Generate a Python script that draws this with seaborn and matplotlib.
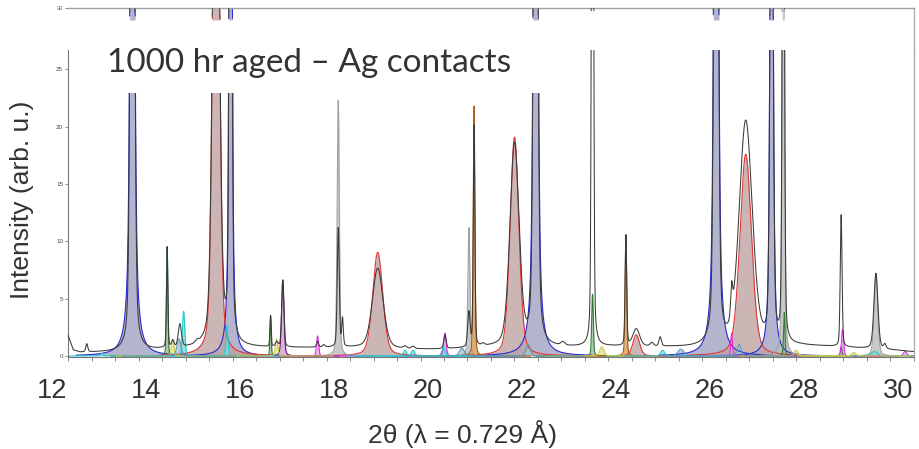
import numpy as np
import pandas as pd
import matplotlib
matplotlib.use("Agg")
import matplotlib.pyplot as plt
from matplotlib.ticker import MultipleLocator, FixedLocator, NullLocator
from matplotlib.patches import Rectangle
import seaborn as sns

# ---------------- data ----------------
x_tick_values = [12, 14, 16, 18, 20, 22, 24, 26, 28, 30]
y_tick_values = [0, 5, 10, 15, 20, 25]
top_tick_values = [30]

# fitted phase contributions: position (2theta), height, FWHM
blue_pos = [13.71, 15.80, 22.29, 26.13, 27.31]
blue_height = [90, 100, 90, 95, 60]
blue_fwhm = [0.085, 0.055, 0.085, 0.085, 0.07]

red_pos = [15.49, 18.93, 21.84, 24.43, 26.76]
red_height = [60, 9.05, 19.1, 1.85, 17.6]
red_fwhm = [0.15, 0.25, 0.22, 0.17, 0.29]

gray_pos = [18.09, 20.87, 27.56, 29.53]
gray_height = [22.3, 11.2, 60, 7.1]
gray_fwhm = [0.055, 0.05, 0.05, 0.09]

green_pos = [14.45, 16.65, 23.50, 27.58, 28.79]
green_height = [9.5, 3.5, 5.4, 3.8, 0.8]
green_fwhm = [0.035, 0.03, 0.04, 0.035, 0.04]

orange_pos = [20.98, 24.21]
orange_height = [21.8, 10.6]
orange_fwhm = [0.04, 0.04]

purple_pos = [16.91]
purple_height = [6.65]
purple_fwhm = [0.06]

magenta_pos = [17.65, 20.36, 26.46, 28.82, 30.15]
magenta_height = [1.75, 2.0, 2.0, 2.3, 0.4]
magenta_fwhm = [0.05, 0.06, 0.04, 0.05, 0.08]

cyan_pos = [13.06, 14.80, 15.72, 19.51, 19.68, 20.33, 24.99, 29.50]
cyan_height = [0.25, 3.9, 2.6, 0.5, 0.5, 0.8, 0.5, 0.4]
cyan_fwhm = [0.06, 0.06, 0.05, 0.08, 0.08, 0.08, 0.1, 0.15]

yellow_pos = [14.57, 16.78, 23.70, 27.83, 29.06]
yellow_height = [1.4, 1.5, 0.8, 0.5, 0.3]
yellow_fwhm = [0.06, 0.06, 0.1, 0.1, 0.1]

steel_pos = [14.70, 20.72, 22.13, 25.38, 26.62]
steel_height = [1.5, 0.7, 1.0, 0.6, 1.0]
steel_fwhm = [0.1, 0.12, 0.1, 0.15, 0.1]

# observed pattern: peaks above background
obs_pos = [12.74, 13.71, 14.45, 14.57, 14.72, 15.08, 15.49, 15.80, 16.65, 16.78,
           16.91, 17.65, 17.78, 18.09, 18.18, 18.93, 19.51, 19.68, 20.36, 20.87,
           20.98, 21.17, 21.84, 22.29, 22.87, 23.50, 24.21, 24.43, 24.76, 24.94,
           26.13, 26.46, 26.76, 27.31, 27.56, 28.79, 29.53, 29.72]
obs_height = [0.7, 90, 8.8, 0.6, 2.0, 0.2, 60, 100, 2.7, 0.4,
              5.8, 0.5, 0.2, 10.4, 2.4, 7.0, 0.2, 0.2, 1.2, 3.0,
              19.3, 0.2, 17.7, 90, 0.3, 80, 9.6, 1.5, 0.3, 0.8,
              95, 2.5, 19.6, 60, 60, 11.5, 6.6, 0.4]
obs_fwhm = [0.05, 0.085, 0.035, 0.06, 0.08, 0.08, 0.15, 0.055, 0.03, 0.06,
            0.055, 0.05, 0.06, 0.05, 0.04, 0.27, 0.08, 0.08, 0.06, 0.06,
            0.04, 0.08, 0.23, 0.085, 0.1, 0.045, 0.04, 0.17, 0.08, 0.06,
            0.085, 0.05, 0.33, 0.07, 0.05, 0.045, 0.1, 0.06]
bg_x = [12.34, 12.45, 12.6, 13.0, 13.5, 14.0, 14.3, 15.0, 16.2, 17.0, 18.5, 19.5,
        20.2, 21.3, 22.7, 23.3, 23.9, 25.0, 25.6, 26.0, 27.9, 28.5, 29.0, 29.9, 30.34]
bg_y = [1.8, 0.5, 0.3, 0.3, 0.3, 0.4, 0.5, 0.6, 0.7, 0.7, 0.7, 0.55,
        0.55, 0.7, 0.7, 0.75, 0.8, 0.75, 0.7, 0.7, 0.85, 0.8, 0.7, 0.5, 0.35]

title_text = "1000 hr aged \u2013 Ag contacts"
x_label = "2\u03b8 (\u03bb = 0.729 \u00c5)"
y_label = "Intensity (arb. u.)"

# ---------------- styles ----------------
phases = {
    "blue":    (blue_pos, blue_height, blue_fwhm, 0.6, "#a0a2c2", "#2a2ad0"),
    "red":     (red_pos, red_height, red_fwhm, 0.3, "#c0a3a3", "#e03535"),
    "gray":    (gray_pos, gray_height, gray_fwhm, 0.3, "#bcbcbc", "#a0a0a0"),
    "green":   (green_pos, green_height, green_fwhm, 0.3, "#9fb89f", "#2e7d32"),
    "orange":  (orange_pos, orange_height, orange_fwhm, 0.3, "#d99a48", "#a8601a"),
    "purple":  (purple_pos, purple_height, purple_fwhm, 0.3, "#c8a4d0", "#7a0a80"),
    "magenta": (magenta_pos, magenta_height, magenta_fwhm, 0.3, "#e6a0e6", "#e030e0"),
    "cyan":    (cyan_pos, cyan_height, cyan_fwhm, 0.3, "#86d8d8", "#22cccc"),
    "yellow":  (yellow_pos, yellow_height, yellow_fwhm, 0.3, "#e4e290", "#cccc40"),
    "steel":   (steel_pos, steel_height, steel_fwhm, 0.3, "#a2c4d2", "#5a9ab4"),
}
obs_eta = 0.3


def pseudo_voigt(x, c, h, f, eta):
    d2 = 4.0 * (x - c) ** 2 / f ** 2
    return h * (eta / (1.0 + d2) + (1.0 - eta) * np.exp(-np.log(2.0) * d2))


sns.set_theme(style="white")
plt.rcParams["font.family"] = ["Liberation Sans", "DejaVu Sans"]

W, H = 919, 449
fig = plt.figure(figsize=(W / 100, H / 100), dpi=100)


def frame(left, top, right, bottom):
    return [left / W, 1 - bottom / H, (right - left) / W, (bottom - top) / H]


x_lo, x_hi = 12.34, 30.34
ax = fig.add_axes(frame(68, 50, 914, 357))
ax_top = fig.add_axes(frame(68, 8, 914, 50))
ax_lab = fig.add_axes(frame(52, 356, 898, 357))
ax_top.set_facecolor("none")
ax_lab.set_facecolor("none")

# components table
rows = []
for name, (pos, hgt, fw, eta, fc, ec) in phases.items():
    for i, (c, h, f) in enumerate(zip(pos, hgt, fw)):
        xs = np.linspace(max(c - 1.2, x_lo), min(c + 1.2, x_hi), 1601)
        ys = pseudo_voigt(xs, c, h, f, eta)
        rows.append(pd.DataFrame({"x": xs, "y": ys, "phase": name, "peak": f"{name}{i}"}))
comp = pd.concat(rows, ignore_index=True)

# observed curve
xg = np.linspace(x_lo, x_hi, 9001)
obs = np.interp(xg, bg_x, bg_y)
for c, h, f in zip(obs_pos, obs_height, obs_fwhm):
    obs = obs + pseudo_voigt(xg, c, h, f, obs_eta)
obs_df = pd.DataFrame({"x": xg, "y": obs})

THR = 27.5
for pk, g in comp.groupby("peak", sort=False):
    name = g["phase"].iloc[0]
    fc, ec = phases[name][4], phases[name][5]
    ax.fill_between(g["x"], 0, g["y"], color=fc, alpha=0.8, lw=0, zorder=1)
    yy = g["y"].to_numpy()
    m = yy > THR
    if m.any():
        ax_top.fill_between(g["x"], THR, yy, where=m, color=fc, alpha=0.8, lw=0, zorder=1)
        ax_top.plot(g["x"], np.where(m, yy, np.nan), color=ec, lw=0.8, zorder=2)

palette = {k: v[5] for k, v in phases.items()}
sns.lineplot(data=comp, x="x", y="y", hue="phase", units="peak", estimator=None,
             palette=palette, lw=0.8, legend=False, sort=False, ax=ax, zorder=2)
sns.lineplot(data=obs_df, x="x", y="y", color="#3a3a3a", lw=0.75, estimator=None,
             sort=False, ax=ax, zorder=3)
om = obs > THR
ax_top.plot(xg, np.where(om, obs, np.nan), color="#555555", lw=0.8, zorder=3)

# main axes styling
ax.set_xlim(x_lo, x_hi)
ax.set_ylim(-0.09, 26.7)
ax.set_xlabel("")
ax.set_ylabel(y_label, fontsize=19, color="#333333")
ax.yaxis.set_label_coords(34 / W, 1 - 200 / H, transform=fig.transFigure)
ax.yaxis.set_major_locator(FixedLocator(y_tick_values))
ax.xaxis.set_major_locator(NullLocator())
ax.xaxis.set_minor_locator(MultipleLocator(0.5, offset=0.34))
ax.tick_params(axis="y", which="major", left=True, length=2.5, width=0.6,
               color="#777777", labelsize=4.5, labelcolor="#444444", pad=1)
ax.tick_params(axis="x", which="minor", bottom=True, length=3, width=0.6,
               color="#777777")
for s in ["left", "bottom"]:
    ax.spines[s].set_color("#777777")
    ax.spines[s].set_linewidth(0.8)
ax.spines["right"].set_color("#b0b0b0")
ax.spines["right"].set_linewidth(1.0)
ax.spines["top"].set_visible(False)

# top strip of the broken axis
ax_top.set_xlim(x_lo, x_hi)
ax_top.set_ylim(21.25, 30)
ax_top.xaxis.set_major_locator(NullLocator())
ax_top.yaxis.set_major_locator(FixedLocator(top_tick_values))
ax_top.tick_params(axis="y", left=True, length=2.5, width=0.6, color="#777777",
                   labelsize=4, labelcolor="#555555", pad=1)
ax_top.spines["left"].set_visible(False)
ax_top.spines["bottom"].set_visible(False)
ax_top.spines["top"].set_color("#a0a0a0")
ax_top.spines["top"].set_linewidth(1.0)
ax_top.spines["right"].set_color("#b0b0b0")
ax_top.spines["right"].set_linewidth(1.0)

# big tick labels axis
ax_lab.set_xlim(12, 30)
ax_lab.xaxis.set_major_locator(FixedLocator(x_tick_values))
ax_lab.yaxis.set_major_locator(NullLocator())
ax_lab.tick_params(axis="x", length=0, labelsize=19.5, labelcolor="#333333", pad=15)
for s in ax_lab.spines.values():
    s.set_visible(False)
ax_lab.set_xlabel(x_label, fontsize=19, color="#333333")
ax_lab.xaxis.set_label_coords(462.5 / W, 1 - 420 / H, transform=fig.transFigure)

# title with white backing
ax.add_patch(Rectangle((95 / W, 1 - 93 / H), (550 - 95) / W, (93 - 21) / H,
                       transform=fig.transFigure, facecolor="white", edgecolor="none",
                       zorder=10, clip_on=False))
ax.text(107 / W, 1 - 72 / H, title_text, transform=fig.transFigure, fontsize=24,
        family=["Lato", "DejaVu Sans"], color="#333333", va="baseline", ha="left",
        zorder=11)

fig.savefig("out.png", dpi=100)
